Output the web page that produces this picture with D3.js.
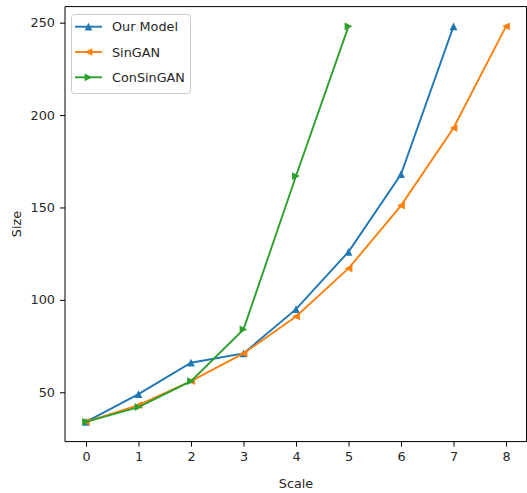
<!DOCTYPE html>
<html>
<head>
<meta charset="utf-8">
<script src="https://cdn.jsdelivr.net/npm/d3@7"></script>
<style>
  body { margin: 0; background: #fff; }
  text { font-family: "DejaVu Sans", sans-serif; fill: #262626; }
  .axis text { font-size: 12.8px; }
  .axis path, .axis line { stroke: #000; }
</style>
</head>
<body>
<div id="chart"></div>
<script>
var scales = [0, 1, 2, 3, 4, 5, 6, 7, 8];
var ourModel = [34, 49, 66, 71, 95, 126, 168, 248];
var sinGAN = [34, 43, 56, 71, 91, 117, 151, 193, 248];
var conSinGAN = [34, 42, 56, 84, 167, 248];
var yTicks = [50, 100, 150, 200, 250];
var seriesNames = ["Our Model", "SinGAN", "ConSinGAN"];

var width = 527, height = 493;
var margin = {left: 65, right: 0, top: 6.6, bottom: 51.4};

var svg = d3.select("#chart").append("svg")
    .attr("width", width)
    .attr("height", height);

//坐标比例
var xScale = d3.scaleLinear()
    .domain([-0.4, 8.4])
    .range([margin.left, width - margin.right]);

var yScale = d3.scaleLinear()
    .domain([23.3, 258.7])
    .range([height - margin.bottom, margin.top]);

var series = [
    {name: seriesNames[0], values: ourModel, color: "#1f77b4", rot: 0},
    {name: seriesNames[1], values: sinGAN, color: "#ff7f0e", rot: -90},
    {name: seriesNames[2], values: conSinGAN, color: "#2ca02c", rot: 90}
];

// matplotlib-like triangle, centred on its bounding box
var tri = {
    draw: function(ctx, size) {
        var r = Math.sqrt(size) / 2;
        ctx.moveTo(0, -r);
        ctx.lineTo(r, r);
        ctx.lineTo(-r, r);
        ctx.closePath();
    }
};
var marker = d3.symbol().type(tri).size(60);

//坐标轴
var xAxis = d3.axisBottom(xScale)
    .tickValues(scales)
    .tickSize(5)
    .tickPadding(5)
    .tickFormat(d3.format("d"));

var yAxis = d3.axisLeft(yScale)
    .tickValues(yTicks)
    .tickSize(5)
    .tickPadding(5);

svg.append("g")
    .attr("class", "axis")
    .attr("transform", "translate(0," + (height - margin.bottom) + ")")
    .call(xAxis)
    .call(function(g) { g.select(".domain").attr("d", "M" + margin.left + ",0H" + width); });

svg.append("g")
    .attr("class", "axis")
    .attr("transform", "translate(" + margin.left + ",0)")
    .call(yAxis)
    .call(function(g) { g.select(".domain").attr("d", "M0," + margin.top + "V" + (height - margin.bottom)); });

// top and right frame
svg.append("line")
    .attr("x1", margin.left).attr("x2", width)
    .attr("y1", margin.top).attr("y2", margin.top)
    .attr("stroke", "#000");
svg.append("line")
    .attr("x1", width - 0.5).attr("x2", width - 0.5)
    .attr("y1", margin.top).attr("y2", height - margin.bottom)
    .attr("stroke", "#000");

var line = d3.line()
    .x(function(d, i) { return xScale(scales[i]); })
    .y(function(d) { return yScale(d); });

series.forEach(function(s) {
    svg.append("path")
        .datum(s.values)
        .attr("fill", "none")
        .attr("stroke", s.color)
        .attr("stroke-width", 1.9)
        .attr("d", line);

    svg.selectAll(null)
        .data(s.values)
        .enter()
        .append("path")
        .attr("d", marker)
        .attr("fill", s.color)
        .attr("transform", function(d, i) {
            return "translate(" + xScale(scales[i]) + "," + yScale(d) + ") rotate(" + s.rot + ")";
        });
});

//轴标题
svg.append("text")
    .attr("x", (margin.left + width) / 2)
    .attr("y", 488)
    .attr("text-anchor", "middle")
    .style("font-size", "12.8px")
    .text("Scale");

svg.append("text")
    .attr("transform", "translate(21," + ((margin.top + height - margin.bottom) / 2) + ") rotate(-90)")
    .attr("text-anchor", "middle")
    .style("font-size", "12.8px")
    .text("Size");

//图例
var legend = svg.append("g");
legend.append("rect")
    .attr("x", 71.5).attr("y", 14.5)
    .attr("width", 119).attr("height", 79)
    .attr("rx", 3)
    .attr("fill", "#fff")
    .attr("fill-opacity", 0.8)
    .attr("stroke", "#ccc");

series.forEach(function(s, i) {
    var y = 26.7 + i * 25.3;
    legend.append("line")
        .attr("x1", 75).attr("x2", 102)
        .attr("y1", y).attr("y2", y)
        .attr("stroke", s.color)
        .attr("stroke-width", 1.9);
    legend.append("path")
        .attr("d", marker)
        .attr("fill", s.color)
        .attr("transform", "translate(88.5," + y + ") rotate(" + s.rot + ")");
    legend.append("text")
        .attr("x", 112)
        .attr("y", y + 4.5)
        .style("font-size", "12.8px")
        .text(s.name);
});
</script>
</body>
</html>
